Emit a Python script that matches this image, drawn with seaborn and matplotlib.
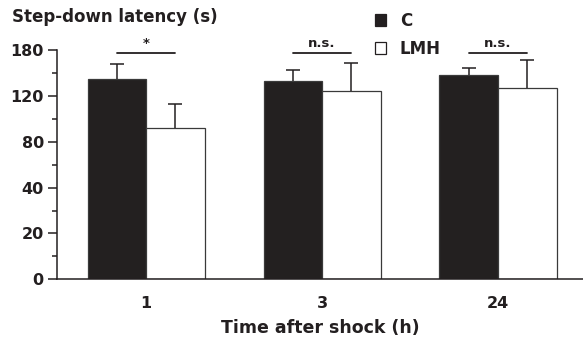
import numpy as np
import pandas as pd
import matplotlib
matplotlib.use("Agg")
import matplotlib.pyplot as plt
import seaborn as sns
from matplotlib.patches import Patch

# values
times = ["1", "3", "24"]
groups = ["C", "LMH"]
c_mean = [142.8, 139.4, 147.7]
c_err = [18.8, 14.8, 9.1]
lmh_mean = [91.9, 126.3, 131.0]
lmh_err = [20.9, 36.7, 35.9]
sig_labels = ["*", "n.s.", "n.s."]
sig_level = 176.5
ytick_vals = [0, 20, 40, 80, 120, 180]
yminor_vals = [10, 30, 60, 100, 150]

df = pd.DataFrame({
    "time": times * 2,
    "group": ["C"] * len(times) + ["LMH"] * len(times),
    "latency": c_mean + lmh_mean,
    "err": c_err + lmh_err,
})

ink = "#231f20"
sns.set_style("ticks")
plt.rcParams["font.family"] = ["DejaVu Sans"]
plt.rcParams["font.weight"] = "bold"
plt.rcParams["text.color"] = ink
plt.rcParams["xtick.color"] = ink
plt.rcParams["ytick.color"] = ink
plt.rcParams["axes.labelcolor"] = ink
plt.rcParams["axes.edgecolor"] = ink

fig = plt.figure(figsize=(5.83, 3.43), dpi=100)
ax = fig.add_axes([0.0978, 0.1857, 0.9022, 0.668])

colors = {"C": ink, "LMH": "white"}
sns.barplot(data=df, x="time", y="latency", hue="group", hue_order=groups,
            palette=colors, width=0.665, edgecolor="#3a3a3a", linewidth=0.9,
            legend=False, ax=ax)

# error bars (upper only), bars come out ordered by hue then x
for bar, (_, row) in zip(ax.patches, df.iterrows()):
    xc = bar.get_x() + bar.get_width() / 2
    _, caps, _ = ax.errorbar(xc, row["latency"], yerr=[[0], [row["err"]]],
                             color=ink, lw=1.1, capsize=4.7,
                             capthick=1.1, zorder=1)
    caps[0].set_visible(False)

# the y axis has evenly spaced ticks for uneven values
steps = np.arange(len(ytick_vals), dtype=float)
fwd = lambda v: np.interp(v, ytick_vals, steps)
inv = lambda p: np.interp(p, steps, ytick_vals)
ax.set_yscale("function", functions=(fwd, inv))
ax.set_ylim(0, 180)
ax.set_yticks(ytick_vals)
ax.set_yticks(yminor_vals, minor=True)
ax.set_yticklabels([str(v) for v in ytick_vals])
ax.set_xlim(-0.506, 2.483)

for i, s in enumerate(sig_labels):
    ax.plot([i - 0.165, i + 0.165], [sig_level, sig_level], color=ink,
            lw=1.3, clip_on=False)
    ax.annotate(s, (i, sig_level), xytext=(0, 2), textcoords="offset points",
                ha="center", va="bottom", fontsize=9.5, fontweight="bold")

sns.despine(ax=ax)
ax.spines["left"].set_linewidth(1.1)
ax.spines["bottom"].set_linewidth(1.1)
ax.tick_params(axis="y", which="major", length=6.5, width=1.1, pad=3,
               labelsize=11.5)
ax.tick_params(axis="y", which="minor", length=3.5, width=1.1)
ax.tick_params(axis="x", length=0, pad=12, labelsize=11.5)
ax.set_ylabel("")
ax.set_xlabel("Time after shock (h)", fontsize=12.5, fontweight="bold",
              labelpad=5.5)

fig.text(0.0206, 0.95, "Step-down latency (s)", fontsize=12,
         fontweight="bold", va="center", ha="left")

handles = [Patch(facecolor=colors[g], edgecolor=ink, lw=0.9) for g in groups]
fig.legend(handles, groups, loc="upper left", bbox_to_anchor=(0.617, 1.01),
           frameon=False, handlelength=0.7, handleheight=0.7,
           handletextpad=0.8, labelspacing=0.6, prop={"weight": "bold", "size": 12})

fig.savefig("out.png", dpi=100)
